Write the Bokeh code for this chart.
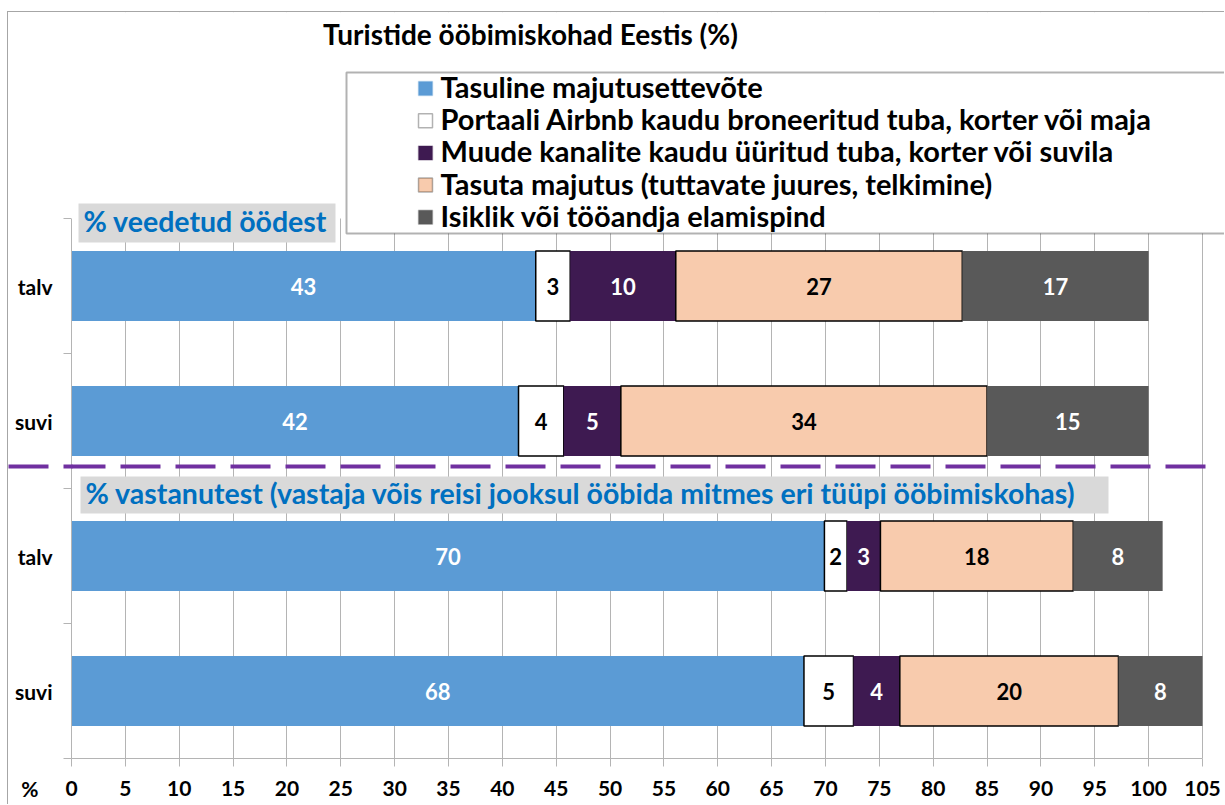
from bokeh.plotting import figure
from bokeh.models import (ColumnDataSource, Range1d, FixedTicker, Label, BoxAnnotation,
                          Arrow, LinearAxis)
from bokeh.core.properties import value
from bokeh.embed import file_html
from bokeh.resources import INLINE

# ---------------- data ----------------
chart_title = "Turistide ööbimiskohad Eestis (%)"
categories = ["talv", "suvi", "talv", "suvi"]
section_titles = ["% veedetud öödest",
                  "% vastanutest (vastaja võis reisi jooksul ööbida mitmes eri tüüpi ööbimiskohas)"]
series_names = ["Tasuline majutusettevõte",
                "Portaali Airbnb kaudu broneeritud tuba, korter või maja",
                "Muude kanalite kaudu üüritud tuba, korter või suvila",
                "Tasuta majutus (tuttavate juures, telkimine)",
                "Isiklik või tööandja elamispind"]
tasuline = [43.1, 41.5, 69.9, 68.0]
airbnb = [3.2, 4.2, 2.1, 4.6]
muude = [9.8, 5.3, 3.1, 4.3]
tasuta = [26.6, 34.0, 17.9, 20.3]
isiklik = [17.3, 15.0, 8.3, 7.8]
x_ticks = list(range(0, 106, 5))
axis_unit = "%"

# ---------------- styles / layout ----------------
series_values = [tasuline, airbnb, muude, tasuta, isiklik]
fill_colors = ["#5b9bd5", "#ffffff", "#3e1a51", "#f8cbad", "#595959"]
edge_colors = [None, "#000000", None, "#000000", None]
text_colors = ["#ffffff", "#000000", "#ffffff", "#000000", "#ffffff"]
GRID = "#b4b4b4"
SEP = "#7030a0"
FONT = "Lato"

OX, OY = 8, 12                 # canvas origin on the page (css margin + border)
W, H = 1225 - OX, 805 - OY
FL, FR, FB = 71, 1202, 758     # page px of value 0, value 105, category-axis bottom
XMAX = 105
PXU = (FR - FL) / XMAX         # px per x unit
n = len(categories)
PYU = 135.0                    # px per category band

p = figure(width=W, height=H,
           x_range=Range1d(0, (OX + W - FL) / PXU),
           y_range=Range1d(0, (FB - OY) / PYU),
           output_backend="svg", toolbar_location=None,
           min_border_left=FL - OX, min_border_right=0,
           min_border_top=0, min_border_bottom=OY + H - FB,
           styles={"margin-left": "7px", "margin-top": "11px",
                   "border-left": "1px solid #a6a6a6", "border-top": "1px solid #a6a6a6"})
p.outline_line_color = None
p.background_fill_color = "white"
p.border_fill_color = "white"


def sx(px):
    return px - FL


def sy(py):
    return FB - py


ys = [n - i - 0.5 for i in range(n)]
left = [0.0] * n
for vals, fc, ec, tc in zip(series_values, fill_colors, edge_colors, text_colors):
    right = [l + v for l, v in zip(left, vals)]
    src = ColumnDataSource(dict(y=ys, left=left, right=right,
                                mid=[(l + r) / 2 for l, r in zip(left, right)],
                                lab=[str(int(v + 0.5)) for v in vals]))
    p.hbar(y="y", left="left", right="right", height=0.52, source=src,
           fill_color=fc, line_color=ec, line_width=1.5)
    p.text(x="mid", y="y", text="lab", source=src, text_color=tc,
           text_font=value(FONT), text_font_style="bold", text_font_size="22px",
           text_align="center", text_baseline="middle")
    left = right

# ---------------- axes ----------------
xa = p.xaxis[0]
xa.ticker = FixedTicker(ticks=x_ticks, minor_ticks=[])
xa.bounds = (-1.5, XMAX)
xa.axis_line_color = GRID
xa.major_tick_line_color = GRID
xa.major_tick_out = 8
xa.major_tick_in = 0
xa.minor_tick_line_color = None
xa.major_label_standoff = 14
xa.major_label_text_font = FONT
xa.major_label_text_font_style = "bold"
xa.major_label_text_font_size = "21px"
xa.major_label_text_color = "#000000"

# inner axis: category names, band boundaries as minor ticks
ya = p.yaxis[0]
ya.ticker = FixedTicker(ticks=ys, minor_ticks=list(range(n + 1)))
ya.bounds = (0, n)
ya.major_label_overrides = {y: c for y, c in zip(ys, categories)}
ya.axis_line_color = GRID
ya.major_tick_line_color = None
ya.major_tick_out = 0
ya.major_tick_in = 0
ya.minor_tick_out = 8
ya.minor_tick_in = 0
ya.minor_tick_line_color = GRID
ya.major_label_standoff = 11
ya.major_label_text_font = FONT
ya.major_label_text_font_style = "bold"
ya.major_label_text_font_size = "21px"
ya.major_label_text_color = "#000000"

# outer axis: left part of the dashed separator (minor tick) and the
# value unit "%" (label of a tick at the bottom edge, pushed down one line)
sep_y = (FB - 466) / PYU
sep_axis = LinearAxis(ticker=FixedTicker(ticks=[0], minor_ticks=[sep_y]),
                      major_label_overrides={0: "\n" + axis_unit},
                      major_label_standoff=-30, major_label_text_line_height=2.4,
                      major_label_text_font=FONT, major_label_text_font_style="bold",
                      major_label_text_font_size="21px", major_label_text_color="#000000",
                      axis_line_color=None, major_tick_line_color=None,
                      major_tick_out=0, major_tick_in=0,
                      minor_tick_line_color=SEP, minor_tick_line_width=4,
                      minor_tick_line_dash="40 15", minor_tick_out=4, minor_tick_in=60)
p.add_layout(sep_axis, "left")

p.xgrid[0].ticker = FixedTicker(ticks=x_ticks, minor_ticks=[])
p.xgrid.grid_line_color = GRID
p.ygrid.visible = False


def screen_box(x0, x1, y0, y1, **kw):
    return BoxAnnotation(left=sx(x0), right=sx(x1), top=sy(y0), bottom=sy(y1),
                         left_units="screen", right_units="screen",
                         top_units="screen", bottom_units="screen", **kw)


def screen_label(x, y, text, size, color="#000000", align="left"):
    return Label(x=sx(x), y=sy(y), x_units="screen", y_units="screen", text=text,
                 text_align=align, text_baseline="middle", text_font=FONT,
                 text_font_style="bold", text_font_size=size, text_color=color)


# white area above the plot area (hides grid lines there)
p.add_layout(screen_box(FL - 5, OX + W + 20, 0, 218, fill_color="#ffffff", fill_alpha=1, line_color=None))

# title
p.add_layout(screen_label(530, 33, chart_title, "28px", align="center"))

# section headers
for (bx0, bx1, by0, by1, tx, ty), txt in zip([(78, 335, 203, 242, 83, 220),
                                              (80, 1108, 476, 513, 85, 492)], section_titles):
    p.add_layout(screen_box(bx0, bx1, by0, by1, fill_color="#d9d9d9", fill_alpha=1, line_color=None))
    p.add_layout(screen_label(tx, ty, txt, "28.5px", color="#0070c0"))

# dashed separator (continues the separator tick of the outer axis)
p.add_layout(Arrow(end=None, x_start=sx(10), y_start=sy(466), x_end=sx(1212), y_end=sy(466),
                   start_units="screen", end_units="screen",
                   line_color=SEP, line_width=4, line_dash="40 15"))

# legend
p.add_layout(screen_box(346, OX + W + 40, 72, 233, fill_color="#ffffff", fill_alpha=1,
                        line_color="#000000", line_width=2))
for i, (name, fc, ec) in enumerate(zip(series_names, fill_colors, edge_colors)):
    cy = 88 + 32.2 * i
    p.add_layout(screen_box(418, 432, cy - 7, cy + 7, fill_color=fc, fill_alpha=1,
                            line_color=ec if ec else fc, line_width=1.5))
    p.add_layout(screen_label(440, cy - 2, name, "29px"))

open("out.html", "w").write(file_html(p, INLINE))
